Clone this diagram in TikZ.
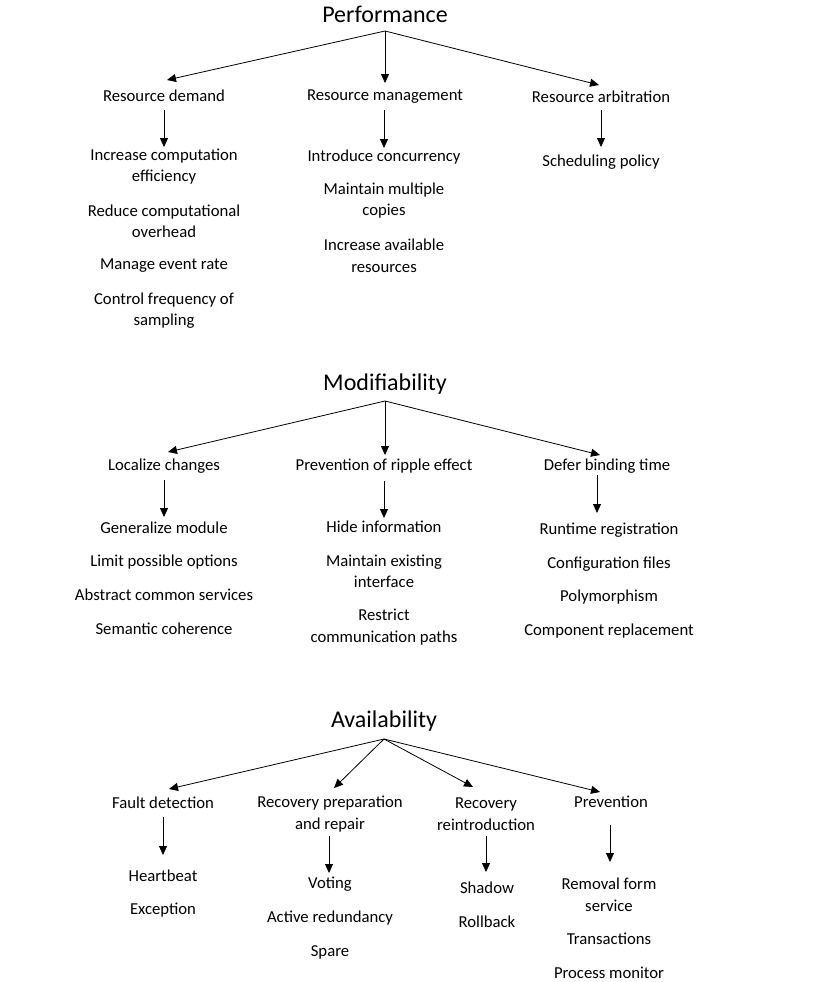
\documentclass[tikz,border=0pt]{standalone}
\usepackage{fontspec}
\setmainfont{Carlito}
\usetikzlibrary{arrows.meta}
\begin{document}
\begin{tikzpicture}[x=1pt,y=-1pt,
  arr/.style={-{Triangle[length=9pt,width=8pt]}, line width=0.8pt},
  ttl/.style={font=\fontsize{24}{28}\selectfont, inner sep=0pt},
  lbl/.style={font=\fontsize{16.7}{21.5}\selectfont, align=center, inner sep=0pt}]
\useasboundingbox[fill=white] (0,0) rectangle (825,982);

% ---------------- Performance ----------------
\node[ttl] (perf) at (385,14) {Performance};
\coordinate (perfr) at (385,31);
\node[lbl] (rd) at (164,96) {Resource demand};
\node[lbl] (rm) at (385,97) {Resource management};
\node[lbl] (ra) at (601,97) {Resource arbitration};
\draw[arr] (perfr) -- ([xshift=3pt,yshift=16pt]rd.center);
\draw[arr] (perfr) -- ([yshift=14pt]rm.center);
\draw[arr] (perfr) -- ([xshift=-2pt,yshift=12pt]ra.center);

\node[lbl] (rd1) at (164,166.5) {Increase computation\\efficiency};
\node[lbl] (rd2) at (164,221.5) {Reduce computational\\overhead};
\node[lbl] (rd3) at (164,266) {Manage event rate};
\node[lbl] (rd4) at (164,310.5) {Control frequency of\\sampling};
\draw[arr] ([yshift=-14pt]rd.center) -- ([yshift=19.5pt]rd1.center);

\node[lbl] (rm1) at (384,157) {Introduce concurrency};
\node[lbl] (rm2) at (384,200.5) {Maintain multiple\\copies};
\node[lbl] (rm3) at (384,256) {Increase available\\resources};
\draw[arr] ([xshift=-1pt,yshift=-13pt]rm.center) -- ([yshift=9pt]rm1.center);

\node[lbl] (ra1) at (601,162) {Scheduling policy};
\draw[arr] ([yshift=-13pt]ra.center) -- ([yshift=15pt]ra1.center);

% ---------------- Modifiability ----------------
\node[ttl] (mod) at (385,384) {Modifiability};
\coordinate (modr) at (385,401);
\node[lbl] (lc) at (164,466) {Localize changes};
\node[lbl] (pr) at (384,466) {Prevention of ripple effect};
\node[lbl] (db) at (607,466) {Defer binding time};
\draw[arr] (modr) -- ([xshift=4pt,yshift=14pt]lc.center);
\draw[arr] (modr) -- ([xshift=1pt,yshift=11pt]pr.center);
\draw[arr] (modr) -- ([xshift=-7pt,yshift=11pt]db.center);

\node[lbl] (lc1) at (164,528) {Generalize module};
\node[lbl] (lc2) at (164,562) {Limit possible options};
\node[lbl] (lc3) at (164,595) {Abstract common services};
\node[lbl] (lc4) at (164,629) {Semantic coherence};
\draw[arr] ([yshift=-14pt]lc.center) -- ([yshift=11pt]lc1.center);

\node[lbl] (pr1) at (384,527) {Hide information};
\node[lbl] (pr2) at (384,571.5) {Maintain existing\\interface};
\node[lbl] (pr3) at (384,627) {Restrict\\communication paths};
\draw[arr] ([yshift=-15pt]pr.center) -- ([yshift=9pt]pr1.center);

\node[lbl] (db1) at (609,530) {Runtime registration};
\node[lbl] (db2) at (609,564) {Configuration files};
\node[lbl] (db3) at (609,597) {Polymorphism};
\node[lbl] (db4) at (609,631) {Component replacement};
\draw[arr] ([xshift=-10pt,yshift=-9pt]db.center) -- ([xshift=-12pt,yshift=17pt]db1.center);

% ---------------- Availability ----------------
\node[ttl] (av) at (384,721) {Availability};
\coordinate (avr) at (384,739);
\node[lbl] (fd) at (163,803) {Fault detection};
\node[lbl] (rp) at (330,814) {Recovery preparation\\and repair};
\node[lbl] (rr) at (486,814) {Recovery\\reintroduction};
\node[lbl] (pv) at (611,802) {Prevention};
\draw[arr] (avr) -- ([xshift=6pt,yshift=14pt]fd.center);
\draw[arr] (avr) -- ([xshift=4pt,yshift=26pt]rp.center);
\draw[arr] (avr) -- ([xshift=-13pt,yshift=27pt]rr.center);
\draw[arr] (avr) -- ([xshift=-11pt,yshift=10pt]pv.center);

\node[lbl] (fd1) at (163,876) {Heartbeat};
\node[lbl] (fd2) at (163,910) {Exception};
\draw[arr] ([yshift=-14pt]fd.center) -- ([yshift=21pt]fd1.center);

\node[lbl] (rp1) at (330,884) {Voting};
\node[lbl] (rp2) at (330,918) {Active redundancy};
\node[lbl] (rp3) at (330,952) {Spare};
\draw[arr] ([xshift=-1pt,yshift=-22pt]rp.center) -- ([xshift=-1pt,yshift=11pt]rp1.center);

\node[lbl] (rr1) at (487,888) {Shadow};
\node[lbl] (rr2) at (487,922) {Rollback};
\draw[arr] ([yshift=-22pt]rr.center) -- ([xshift=-1pt,yshift=16pt]rr1.center);

\node[lbl] (pv1) at (609,895) {Removal form\\service};
\node[lbl] (pv2) at (609,939) {Transactions};
\node[lbl] (pv3) at (609,973) {Process monitor};
\draw[arr] ([xshift=-1pt,yshift=-23pt]pv.center) -- ([xshift=1pt,yshift=33pt]pv1.center);
\end{tikzpicture}
\end{document}
